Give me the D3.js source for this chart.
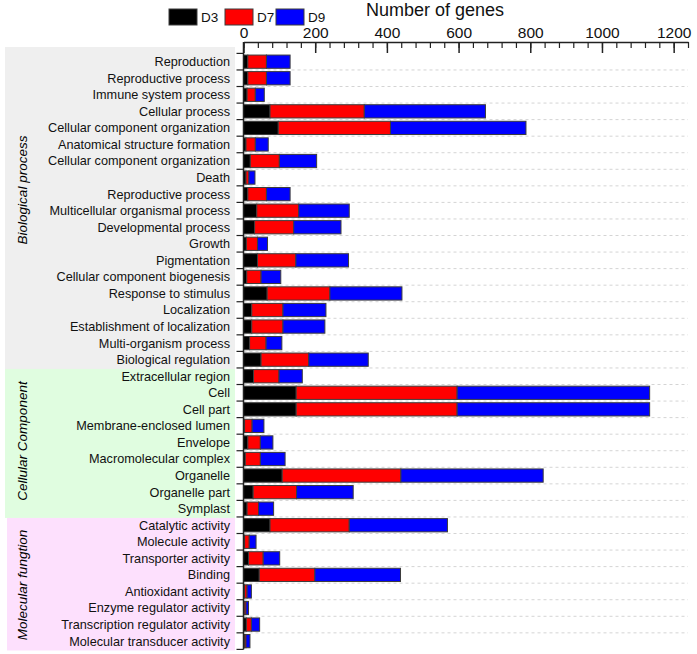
<!DOCTYPE html>
<html><head><meta charset="utf-8">
<script src="https://cdn.jsdelivr.net/npm/d3@7"></script>
<style>body{margin:0;background:#fff}svg{display:block;font-family:Arial,"Liberation Sans",sans-serif}</style>
</head><body><svg id="c" width="697" height="654"></svg>
<script>
const categories = ["Reproduction","Reproductive process","Immune system process","Cellular process","Cellular component organization","Anatomical structure formation","Cellular component organization","Death","Reproductive process","Multicellular organismal process","Developmental process","Growth","Pigmentation","Cellular component biogenesis","Response to stimulus","Localization","Establishment of localization","Multi-organism process","Biological regulation","Extracellular region","Cell","Cell part","Membrane-enclosed lumen","Envelope","Macromolecular complex","Organelle","Organelle part","Symplast","Catalytic activity","Molecule activity","Transporter activity","Binding","Antioxidant activity","Enzyme regulator activity","Transcription regulator activity","Molecular transducer activity"];
const groupOf = [0,0,0,0,0,0,0,0,0,0,0,0,0,0,0,0,0,0,0,1,1,1,1,1,1,1,1,1,2,2,2,2,2,2,2,2];
const groupNames = ["Biological process","Cellular Component","Molecular fungtion"];
const d3Values = [12,12,10,74,97,7,19,7,12,37,31,8,39,9,66,23,23,17,49,28,147,147,3,12,5,108,27,10,74,3,14,44,3,2,8,3];
const d7Values = [52,52,23,263,313,26,81,8,52,117,109,31,107,40,175,87,87,46,133,71,449,449,21,35,42,331,121,32,221,13,41,155,7,5,14,4];
const d9Values = [66,66,25,338,378,36,104,17,66,141,132,28,147,55,201,120,117,44,166,65,537,537,33,35,69,397,158,42,274,19,46,239,12,7,23,11];
const seriesNames = ["D3","D7","D9"];
const xTicks = [0,200,400,600,800,1000,1200];
const xMinorTicks = d3.range(0, 1241, 40);

const colors = ["#000000","#ff0000","#0000ff"];
const groupFills = ["#efefef","#e0fde0","#fde0fd"];
const FONT = 'Arial,"Liberation Sans",sans-serif';
const svg = d3.select("#c");

const x = d3.scaleLinear().domain([0,1240]).range([243.5,688]);
const y = d3.scaleBand().domain(d3.range(categories.length)).range([53.4,649.4]).paddingInner(0.2).paddingOuter(0.1);
const step = y.step();
const top0 = 53.4;

// group backgrounds
const groupRows = groupNames.map((g,gi)=>{
  const idx = d3.range(categories.length).filter(i=>groupOf[i]===gi);
  return {gi, first:d3.min(idx), last:d3.max(idx)};
});
const gBoxX = [5,5,7];
groupRows.forEach((g,k)=>{
  let yA = k===0 ? 47 : top0 + g.first*step + 1;
  let yB = top0 + (g.last+1)*step + 1;
  if(k===groupRows.length-1) yB = 650.5;
  svg.append("rect").attr("x",gBoxX[k]).attr("y",yA).attr("width",235-gBoxX[k]).attr("height",yB-yA).attr("fill",groupFills[k]);
});
// group labels
const groupLabelY = [190, 441, 585];
groupNames.forEach((g,k)=>{
  svg.append("text").attr("transform",`translate(27,${groupLabelY[k]}) rotate(-90)`)
    .attr("text-anchor","middle").attr("font-size",13.5).attr("font-style","italic").attr("fill","#000").text(g);
});

// category labels
svg.append("g").selectAll("text").data(categories).join("text")
  .attr("x",230).attr("y",(d,i)=>y(i)+y.bandwidth()/2).attr("dy","0.35em")
  .attr("text-anchor","end").attr("font-size",12.7).attr("fill","#111").text(d=>d);

// gridlines
svg.append("g").selectAll("line").data(d3.range(1,categories.length)).join("line")
  .attr("x1",x(0)).attr("x2",x(1240)).attr("y1",i=>top0+i*step).attr("y2",i=>top0+i*step)
  .attr("stroke","#d4d4d4").attr("stroke-dasharray","3,3").attr("stroke-width",1);

// stacked bars
const rows = categories.map((c,i)=>({i, D3:d3Values[i], D7:d7Values[i], D9:d9Values[i]}));
const stack = d3.stack().keys(seriesNames)(rows);
svg.append("g").selectAll("g").data(stack).join("g").attr("fill",(d,k)=>colors[k])
  .selectAll("rect").data(d=>d).join("rect")
  .attr("x",d=>x(d[0])).attr("width",d=>x(d[1])-x(d[0]))
  .attr("y",d=>y(d.data.i)).attr("height",y.bandwidth())
  .attr("stroke","#3c3c3c").attr("stroke-width",1);

// y ticks & axis
svg.append("g").selectAll("line").data(d3.range(0,categories.length+1)).join("line")
  .attr("x1",236.5).attr("x2",x(0)).attr("y1",i=>top0+i*step).attr("y2",i=>top0+i*step)
  .attr("stroke","#222").attr("stroke-width",1.2);
svg.append("line").attr("x1",x(0)).attr("x2",x(0)).attr("y1",42).attr("y2",649.5).attr("stroke","#222").attr("stroke-width",1.5);

// top axis
const axMinor = svg.append("g").attr("transform","translate(0,42)")
  .call(d3.axisTop(x).tickValues(xMinorTicks).tickSize(-6).tickSizeOuter(0).tickFormat(""));
axMinor.selectAll("line").attr("stroke","#222").attr("stroke-width",1.2);
axMinor.select(".domain").attr("stroke","#222").attr("stroke-width",1.5);
const axMajor = svg.append("g").attr("transform","translate(0,42)")
  .call(d3.axisTop(x).tickValues(xTicks).tickSize(-11).tickSizeOuter(0).tickPadding(4).tickFormat(d3.format("d")));
axMajor.select(".domain").remove();
axMajor.selectAll("line").attr("stroke","#222").attr("stroke-width",1.5);
axMajor.selectAll("text").attr("font-size",15.5).attr("font-family",FONT).attr("fill","#111");

// title
svg.append("text").attr("x",435).attr("y",16).attr("text-anchor","middle").attr("font-size",18).attr("fill","#111").text("Number of genes");

// legend
const legX = [169,225,276];
seriesNames.forEach((s,k)=>{
  svg.append("rect").attr("x",legX[k]).attr("y",9).attr("width",28).attr("height",16).attr("fill",colors[k]).attr("stroke","#3c3c3c");
  svg.append("text").attr("x",legX[k]+32).attr("y",17).attr("dy","0.35em").attr("font-size",13.5).attr("fill","#111").text(s);
});
</script></body></html>
